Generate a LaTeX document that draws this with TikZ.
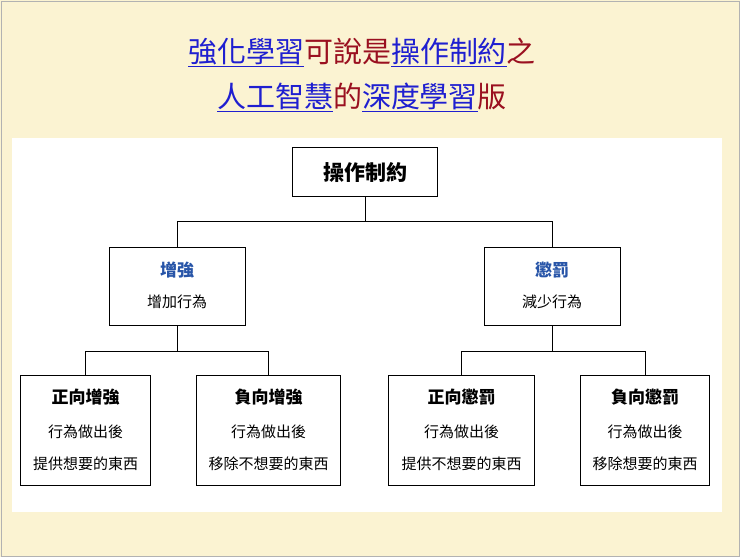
\documentclass[tikz,border=0pt]{standalone}
\usepackage{fontspec}
\newfontfamily\cjk{Noto Sans CJK TC}
\definecolor{bgy}{HTML}{FBF3D2}
\definecolor{tblue}{HTML}{1F1FD0}
\definecolor{tred}{HTML}{9A1020}
\definecolor{hblue}{HTML}{2855A8}
\begin{document}
\begin{tikzpicture}[x=1pt,y=-1pt,font=\cjk,
 box/.style={draw,line width=1.3pt,anchor=north west,inner sep=0pt},
 ln/.style={draw,line width=0.8pt},
 hd/.style={font=\cjk\bfseries\fontsize{17}{19}\selectfont},
 tx/.style={font=\cjk\fontsize{15}{17}\selectfont},
]
\fill[bgy] (0,0) rectangle (740,557);
\draw[gray!60] (1,1) rectangle (739,556);
\fill[white] (12,138) rectangle (722,512);
\node (t1) at (362,52) {\fontsize{29}{32}\selectfont\color{tblue}\underline{強化學習}\color{tred}可說是\color{tblue}\underline{操作制約}\color{tred}之};
\node (t2) at (362,97) {\fontsize{29}{32}\selectfont\color{tblue}\underline{人工智慧}\color{tred}的\color{tblue}\underline{深度學習}\color{tred}版};
\node[box,minimum width=145,minimum height=49] (top) at (292,147) {};
\node at (top.center) {\fontsize{21}{24}\selectfont\bfseries 操作制約};
\node[box,minimum width=136,minimum height=78] (l) at (109,247) {};
\node[hd,text=hblue] (lh) at (177,270) {增強};
\node[tx] (lt) at (177,302) {增加行為};
\node[box,minimum width=136,minimum height=78] (r) at (484,247) {};
\node[hd,text=hblue] (rh) at (552,270) {懲罰};
\node[tx] (rt) at (552,302) {減少行為};
\foreach \n/\x/\w/\h/\a/\b in {a/20/130/正向增強/行為做出後/提供想要的東西,b/196/144/負向增強/行為做出後/移除不想要的東西,c/388/146/正向懲罰/行為做出後/提供不想要的東西,d/580/129/負向懲罰/行為做出後/移除想要的東西}{
 \node[box,minimum width=\w,minimum height=110] (\n) at (\x,375) {};
 \node[hd] (\n1) at ([yshift=-22]\n.north) {\h};
 \node[tx] (\n2) at ([yshift=-57]\n.north) {\a};
 \node[tx] (\n3) at ([yshift=-89]\n.north) {\b};
}
\draw[ln] (top.south) -- ++(0,24) -| (l.north);
\draw[ln] (top.south) ++(0,24) -| (r.north);
\draw[ln] (l.south) -- ++(0,25) -| (a.north);
\draw[ln] (l.south) ++(0,25) -| (b.north);
\draw[ln] (r.south) -- ++(0,25) -| (c.north);
\draw[ln] (r.south) ++(0,25) -| (d.north);
\end{tikzpicture}
\end{document}
